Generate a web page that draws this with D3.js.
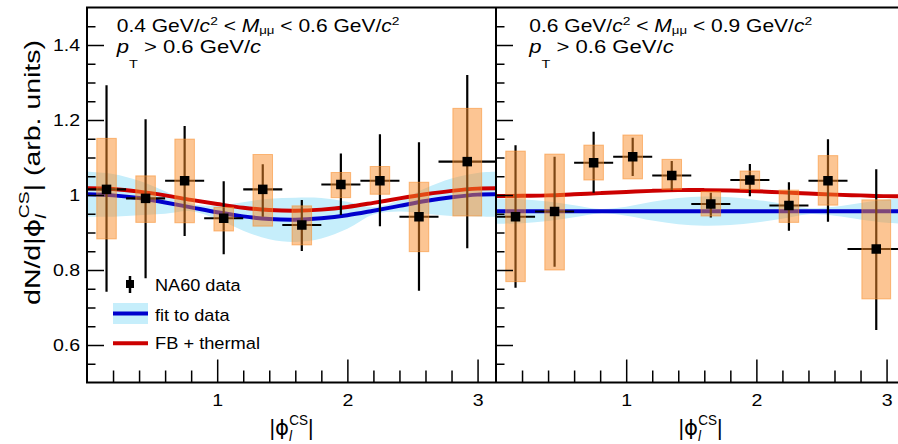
<!DOCTYPE html>
<html>
<head>
<meta charset="utf-8">
<script src="https://cdn.jsdelivr.net/npm/d3@7"></script>
<style>
  html, body { margin: 0; padding: 0; background: #fff; }
  svg { display: block; }
  text { font-family: "Liberation Sans", Arial, Helvetica, sans-serif; fill: #000; }
</style>
</head>
<body>
<svg id="chart" width="898" height="444"></svg>
<script>
// |phi_l^CS| bins (rad)
const phiBinEdges = [0, 0.3, 0.6, 0.9, 1.2, 1.5, 1.8, 2.1, 2.4, 2.7, Math.PI];

// 0.4 < M_mumu < 0.6 GeV/c^2
const lowMassValue    = [1.015, 0.991, 1.038, 0.938, 1.015, 0.920, 1.028, 1.038, 0.942, 1.089];
const lowMassStatLow  = [0.742, 0.778, 0.891, 0.842, 0.942, 0.851, 0.947, 0.917, 0.745, 0.858];
const lowMassStatHigh = [1.293, 1.202, 1.184, 1.037, 1.082, 0.987, 1.111, 1.162, 1.141, 1.320];
const lowMassSystLow  = [0.883, 0.927, 0.926, 0.904, 0.917, 0.867, 0.993, 1.002, 0.849, 0.944];
const lowMassSystHigh = [1.151, 1.051, 1.149, 0.967, 1.108, 0.971, 1.060, 1.076, 1.034, 1.231];

// 0.6 < M_mumu < 0.9 GeV/c^2
const highMassValue    = [0.942, 0.956, 1.086, 1.102, 1.052, 0.976, 1.040, 0.972, 1.038, 0.856];
const highMassStatLow  = [0.753, 0.809, 1.006, 1.051, 1.013, 0.940, 0.997, 0.905, 0.929, 0.640];
const highMassStatHigh = [1.133, 1.102, 1.169, 1.153, 1.091, 1.006, 1.083, 1.034, 1.149, 1.069];
const highMassSystLow  = [0.769, 0.800, 1.040, 1.043, 1.015, 0.944, 1.015, 0.927, 0.973, 0.723];
const highMassSystHigh = [1.117, 1.109, 1.133, 1.160, 1.095, 1.009, 1.064, 1.013, 1.105, 0.987];

// fit curves, fit uncertainty bands and FB + thermal model, sampled in |phi|
const curvePhi = [0, 0.2, 0.4, 0.6, 0.8, 1.0, 1.2, 1.4, 1.6, 1.8, 2.0, 2.2, 2.4, 2.6, 2.8, 3.0, Math.PI];

const lowMassFit     = [1.002, 0.999, 0.992, 0.980, 0.967, 0.954, 0.943, 0.936, 0.934, 0.938, 0.946, 0.958, 0.971, 0.984, 0.994, 1.001, 1.002];
const lowMassFitLow  = [0.942, 0.942, 0.946, 0.950, 0.957, 0.936, 0.905, 0.882, 0.875, 0.884, 0.910, 0.948, 0.956, 0.950, 0.944, 0.943, 0.942];
const lowMassFitHigh = [1.062, 1.056, 1.038, 1.010, 0.977, 0.972, 0.981, 0.990, 0.993, 0.992, 0.982, 0.968, 0.986, 1.018, 1.044, 1.059, 1.062];
const lowMassModel   = [1.018, 1.016, 1.009, 0.999, 0.987, 0.976, 0.966, 0.960, 0.958, 0.961, 0.968, 0.979, 0.991, 1.002, 1.011, 1.017, 1.018];

const highMassFit     = [0.957, 0.957, 0.957, 0.957, 0.957, 0.957, 0.957, 0.957, 0.957, 0.957, 0.957, 0.957, 0.957, 0.957, 0.957, 0.957, 0.957];
const highMassFitLow  = [0.923, 0.925, 0.931, 0.941, 0.951, 0.945, 0.932, 0.922, 0.918, 0.920, 0.927, 0.937, 0.949, 0.945, 0.935, 0.926, 0.923];
const highMassFitHigh = [0.991, 0.989, 0.983, 0.973, 0.963, 0.969, 0.982, 0.992, 0.996, 0.994, 0.987, 0.977, 0.965, 0.969, 0.979, 0.988, 0.991];
const highMassModel   = [0.997, 0.998, 0.999, 1.002, 1.005, 1.008, 1.011, 1.013, 1.013, 1.012, 1.010, 1.007, 1.004, 1.001, 0.999, 0.997, 0.997];

// axis ticks
const yMajorTicks = [0.6, 0.8, 1.0, 1.2, 1.4];
const yTickLabels = ["0.6", "0.8", "1", "1.2", "1.4"];
const yMinorTicks = [0.55, 0.65, 0.7, 0.75, 0.85, 0.9, 0.95, 1.05, 1.1, 1.15, 1.25, 1.3, 1.35, 1.45];
const xMajorTicks = [1, 2, 3];
const xTickLabels = ["1", "2", "3"];
const xMinorTicks = [0.2, 0.4, 0.6, 0.8, 1.2, 1.4, 1.6, 1.8, 2.2, 2.4, 2.6, 2.8];

const legendLabels = ["NA60 data", "fit to data", "FB + thermal"];

// ---------------------------------------------------------------------------
const FONT = '"Liberation Sans", Arial, Helvetica, sans-serif';
const COL_BAND = "#c6eefb";
const COL_FIT = "#0000cc";
const COL_MODEL = "#cc0000";
const COL_SYST = "rgb(250,140,40)";

const svg = d3.select("#chart");
const plotTop = 7.5, plotBottom = 382.5, panelWidth = 409;

const y = d3.scaleLinear().domain([0.5, 1.5]).range([plotBottom, plotTop]);

function toBins(value, statLow, statHigh, systLow, systHigh) {
  return value.map((v, i) => ({
    lo: phiBinEdges[i], hi: phiBinEdges[i + 1],
    c: (phiBinEdges[i] + phiBinEdges[i + 1]) / 2,
    v, sL: statLow[i], sH: statHigh[i], yL: systLow[i], yH: systHigh[i]
  }));
}

const panels = [
  {
    x0: 87, textX: 116.7, labels: true,
    bins: toBins(lowMassValue, lowMassStatLow, lowMassStatHigh, lowMassSystLow, lowMassSystHigh),
    fit: lowMassFit, fitLow: lowMassFitLow, fitHigh: lowMassFitHigh, model: lowMassModel,
    range: ["0.4", "0.6"]
  },
  {
    x0: 496, textX: 529.3, labels: false,
    bins: toBins(highMassValue, highMassStatLow, highMassStatHigh, highMassSystLow, highMassSystHigh),
    fit: highMassFit, fitLow: highMassFitLow, fitHigh: highMassFitHigh, model: highMassModel,
    range: ["0.6", "0.9"]
  }
];

// text with italic parts, sub/superscripts, stretched horizontally to a width
function richText(parent, parts, o) {
  const t = parent.append("text")
    .attr("font-size", o.size)
    .attr("font-family", FONT)
    .style("white-space", "pre");
  let shift = 0;
  parts.forEach(p => {
    const s = p.shift || 0;
    const ts = t.append("tspan").text(p.t);
    if (p.size) ts.attr("font-size", p.size);
    if (p.it) ts.attr("font-style", "italic");
    if (p.fam) ts.attr("font-family", p.fam);
    if (s !== shift) ts.attr("dy", s - shift);
    if (p.dx) ts.attr("dx", p.dx);
    shift = s;
  });
  if (o.anchor) t.attr("text-anchor", o.anchor);
  let sx = o.sx || 1;
  if (o.width) sx = o.width / t.node().getBBox().width;
  t.attr("transform", `translate(${o.x},${o.y})${o.rotate ? ` rotate(${o.rotate})` : ""} scale(${sx},1)`);
  return t;
}

const defs = svg.append("defs");

panels.forEach((p, k) => {
  const x = d3.scaleLinear().domain([0, Math.PI]).range([p.x0, p.x0 + panelWidth]);
  const clipId = "clip" + k;
  defs.append("clipPath").attr("id", clipId)
    .append("rect").attr("x", p.x0 + 1).attr("y", plotTop)
    .attr("width", panelWidth - 1).attr("height", plotBottom - plotTop);

  const plot = svg.append("g").attr("clip-path", `url(#${clipId})`);

  // fit uncertainty band
  const band = d3.area()
    .x((d, i) => x(curvePhi[i]))
    .y0((d, i) => y(p.fitLow[i]))
    .y1((d, i) => y(p.fitHigh[i]))
    .curve(d3.curveCatmullRom);
  plot.append("path").datum(p.fitLow).attr("d", band).attr("fill", COL_BAND);

  const line = d3.line().x((d, i) => x(curvePhi[i])).y(d => y(d)).curve(d3.curveCatmullRom);
  plot.append("path").datum(p.fit).attr("d", line)
    .attr("fill", "none").attr("stroke", COL_FIT).attr("stroke-width", 4);
  plot.append("path").datum(p.model).attr("d", line)
    .attr("fill", "none").attr("stroke", COL_MODEL).attr("stroke-width", 4);

  // statistical error bars
  const stat = plot.append("g").attr("stroke", "#000").attr("stroke-width", 2.2);
  stat.selectAll(".v").data(p.bins).join("line")
    .attr("x1", d => x(d.c)).attr("x2", d => x(d.c))
    .attr("y1", d => y(d.sL)).attr("y2", d => y(d.sH));
  stat.selectAll(".h").data(p.bins).join("line")
    .attr("x1", d => x(d.lo)).attr("x2", d => x(d.hi))
    .attr("y1", d => y(d.v)).attr("y2", d => y(d.v));

  // systematic boxes
  plot.append("g").selectAll("rect").data(p.bins).join("rect")
    .attr("x", d => x(d.c - (d.hi - d.lo) / 4))
    .attr("width", d => x(d.c + (d.hi - d.lo) / 4) - x(d.c - (d.hi - d.lo) / 4))
    .attr("y", d => y(d.yH))
    .attr("height", d => y(d.yL) - y(d.yH))
    .attr("fill", COL_SYST).attr("fill-opacity", 0.5)
    .attr("stroke", COL_SYST).attr("stroke-opacity", 0.55).attr("stroke-width", 1);

  // markers
  plot.append("g").selectAll("rect").data(p.bins).join("rect")
    .attr("x", d => x(d.c) - 4.75).attr("y", d => y(d.v) - 4.75)
    .attr("width", 9.5).attr("height", 9.5).attr("fill", "#000");

  // axes
  const styleAxis = g => {
    g.select(".domain").remove();
    g.selectAll("line").attr("stroke-width", 1.5);
    g.attr("font-family", FONT).attr("font-size", 17);
    g.selectAll("text").attr("fill", "#000");
  };
  svg.append("g").attr("transform", `translate(0,${plotBottom})`)
    .call(d3.axisBottom(x).tickValues(xMinorTicks).tickSizeInner(-12).tickSizeOuter(0).tickFormat(""))
    .call(styleAxis);
  svg.append("g").attr("transform", `translate(0,${plotBottom})`)
    .call(d3.axisBottom(x).tickValues(xMajorTicks).tickSizeInner(-23).tickSizeOuter(0)
      .tickPadding(11.5).tickFormat((d, i) => xTickLabels[i]))
    .call(styleAxis)
    .call(g => g.selectAll("text").attr("transform", "scale(1.15,1)"));

  svg.append("g").attr("transform", `translate(${p.x0},0)`)
    .call(d3.axisLeft(y).tickValues(yMinorTicks).tickSizeInner(-8.5).tickSizeOuter(0).tickFormat(""))
    .call(styleAxis);
  svg.append("g").attr("transform", `translate(${p.x0},0)`)
    .call(d3.axisLeft(y).tickValues(yMajorTicks).tickSizeInner(-17).tickSizeOuter(0)
      .tickPadding(6).tickFormat((d, i) => p.labels ? yTickLabels[i] : ""))
    .call(styleAxis)
    .call(g => g.selectAll("text").attr("transform", "scale(1.15,1)"));

  // kinematic range annotation
  richText(svg, [
    { t: p.range[0] + " GeV/" }, { t: "c", it: true }, { t: "2", size: 11.5, shift: -6.5 },
    { t: " < ", shift: 0 }, { t: "M", it: true }, { t: "μμ", size: 11, shift: 2.5 },
    { t: " < " + p.range[1] + " GeV/", shift: 0 }, { t: "c", it: true }, { t: "2", size: 11.5, shift: -6.5 }
  ], { x: p.textX, y: 31.7, size: 17.5, width: 283 });
  richText(svg, [
    { t: "p", it: true }, { t: "T", size: 11.5, shift: 15 },
    { t: " > 0.6 GeV/", shift: 0 }, { t: "c", it: true }
  ], { x: p.textX, y: 53.3, size: 17.5, width: 146 });

  // x-axis title
  richText(svg, [
    { t: "|" }, { t: "ϕ", fam: '"DejaVu Sans", sans-serif' },
    { t: "l", it: true, size: 14, shift: 6 },
    { t: "CS", size: 14, shift: -10, dx: -3 },
    { t: "|", shift: 0 }
  ], { x: p.x0 + panelWidth / 2, y: 435, size: 22, anchor: "middle", width: 44 });
});

// frame
const frame = svg.append("g").attr("stroke", "#000").attr("stroke-width", 2).attr("fill", "none");
frame.append("line").attr("x1", 86).attr("x2", 898).attr("y1", plotTop).attr("y2", plotTop);
frame.append("line").attr("x1", 86).attr("x2", 898).attr("y1", plotBottom).attr("y2", plotBottom);
frame.append("line").attr("x1", 87).attr("x2", 87).attr("y1", plotTop).attr("y2", plotBottom);
frame.append("line").attr("x1", 496).attr("x2", 496).attr("y1", plotTop).attr("y2", plotBottom);

// y-axis title
richText(svg, [
  { t: "dN/d|" }, { t: "ϕ", fam: '"DejaVu Sans", sans-serif' },
  { t: "l", it: true, size: 15, shift: 6 },
  { t: "CS", size: 15, shift: -11, dx: -3 },
  { t: "| (arb. units)", shift: 0 }
], { x: 39.5, y: 172.5, size: 22, anchor: "middle", rotate: -90, width: 265 });

// legend
const leg = svg.append("g");
leg.append("line").attr("x1", 130).attr("x2", 130).attr("y1", 276).attr("y2", 293)
  .attr("stroke", "#000").attr("stroke-width", 2.5);
leg.append("rect").attr("x", 126).attr("y", 280).attr("width", 8).attr("height", 8).attr("fill", "#000");
leg.append("rect").attr("x", 113).attr("y", 303).attr("width", 35).attr("height", 21).attr("fill", COL_BAND);
leg.append("line").attr("x1", 113).attr("x2", 148).attr("y1", 313.5).attr("y2", 313.5)
  .attr("stroke", COL_FIT).attr("stroke-width", 4);
leg.append("line").attr("x1", 113).attr("x2", 148).attr("y1", 343.3).attr("y2", 343.3)
  .attr("stroke", COL_MODEL).attr("stroke-width", 4);
richText(leg, [{ t: legendLabels[0] }], { x: 155, y: 290.7, size: 17.2, width: 86 });
richText(leg, [{ t: legendLabels[1] }], { x: 155, y: 320.7, size: 17.2, width: 75 });
richText(leg, [{ t: legendLabels[2] }], { x: 155, y: 349.3, size: 17.2, width: 105 });
</script>
</body>
</html>
